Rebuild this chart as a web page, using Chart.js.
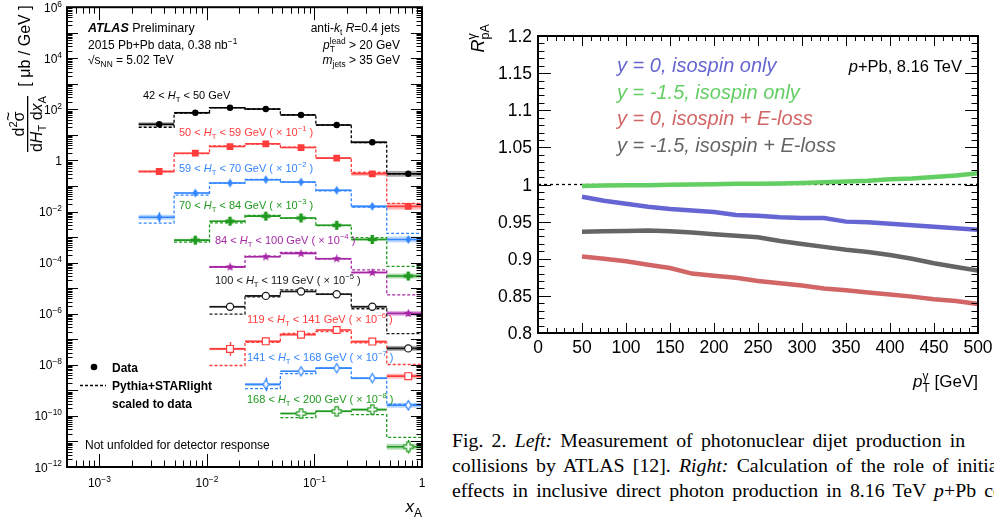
<!DOCTYPE html>
<html>
<head>
<meta charset="utf-8">
<script src="https://cdn.jsdelivr.net/npm/chart.js@4.4.1/dist/chart.umd.min.js"></script>
<style>
  html, body { margin: 0; padding: 0; background: #fff; }
  body { width: 994px; height: 522px; overflow: hidden; position: relative; }
  #left { position: absolute; left: 0; top: 0; }
  #right { position: absolute; left: 440px; top: 0; }
  #cap { position: absolute; left: 452px; top: 428px; font: 19.8px 'Liberation Serif', 'Times New Roman', serif;
         line-height: 25px; white-space: nowrap; color: #000; word-spacing: 3.3px; }
</style>
</head>
<body>
<canvas id="left" width="440" height="522"></canvas>
<canvas id="right" width="554" height="410"></canvas>
<div id="cap">Fig. 2. <i>Left:</i> Measurement of photonuclear dijet production in<br>collisions by ATLAS [12]. <i>Right:</i> Calculation of the role of initial<br>effects in inclusive direct photon production in 8.16 TeV <i>p</i>+Pb collisions</div>
<script>
// ---- Panel izquierdo: dijets fotonucleares (valores ya multiplicados por el factor de cada etiqueta) ----
const EDGES = [0.00232, 0.00495, 0.01057, 0.0226, 0.0482, 0.103, 0.22, 0.47, 1.0];
const XA_POINTS = [0.0036, 0.0078, 0.0164, 0.0353, 0.075, 0.161, 0.345, 0.745];

const HT_LABELS = [
  '42 < #i{H}_{T} < 50 GeV',
  '50 < #i{H}_{T} < 59 GeV ( × 10^{-1} )',
  '59 < #i{H}_{T} < 70 GeV ( × 10^{-2} )',
  '70 < #i{H}_{T} < 84 GeV ( × 10^{-3} )',
  '84 < #i{H}_{T} < 100 GeV ( × 10^{-4} )',
  '100 < #i{H}_{T} < 119 GeV ( × 10^{-5} )',
  '119 < #i{H}_{T} < 141 GeV ( × 10^{-6} )',
  '141 < #i{H}_{T} < 168 GeV ( × 10^{-7} )',
  '168 < #i{H}_{T} < 200 GeV ( × 10^{-8} )'
];
const HT_COLORS = ['#000000', '#ff3c3c', '#3386ff', '#1f9a1f', '#a626a6', '#1a1a1a', '#ff3c3c', '#3386ff', '#1f9a1f'];
const HT_BANDS = ['rgba(0,0,0,0.35)', 'rgba(255,60,60,0.35)', 'rgba(51,134,255,0.35)', 'rgba(31,154,31,0.35)', 'rgba(166,38,166,0.35)',
                  'rgba(0,0,0,0.35)', 'rgba(255,60,60,0.35)', 'rgba(51,134,255,0.35)', 'rgba(31,154,31,0.35)'];

// datos
const D1 = [26, 74, 116, 103, 60, 24.6, 5.2, 0.30];
const D2 = [0.37, 1.92, 3.5, 4.5, 3.2, 1.23, 0.30, 0.016];
const D3 = [0.0060, 0.053, 0.131, 0.177, 0.143, 0.068, 0.016, 0.00081];
const D4 = [null, 7.6e-4, 4.2e-3, 6.6e-3, 5.6e-3, 2.9e-3, 8.1e-4, 3.0e-5];
const D5 = [null, null, 6.8e-5, 1.71e-4, 2.3e-4, 1.43e-4, 4.1e-5, 1.03e-6];
const D6 = [null, null, 1.87e-6, 5.0e-6, 7.4e-6, 5.8e-6, 1.87e-6, 4.4e-8];
const D7 = [null, null, 4.2e-8, 8.3e-8, 1.52e-7, 2.3e-7, 8.1e-8, 3.6e-9];
const D8 = [null, null, null, 1.71e-9, 5.6e-9, 7.4e-9, 3.0e-9, 2.6e-10];
const D9 = [null, null, null, null, 1.24e-10, 1.52e-10, 1.77e-10, 6.2e-12];

// Pythia+STARlight
const M1 = [20, 72, 118, 101, 62, 24, 5.0, 0.30];
const M2 = [0.37, 1.85, 3.7, 4.4, 3.3, 1.2, 0.34, 0.021];
const M3 = [0.0035, 0.044, 0.13, 0.18, 0.14, 0.065, 0.015, 0.0014];
const M4 = [null, 6.4e-4, 3.6e-3, 7.0e-3, 5.4e-3, 2.8e-3, 9.6e-4, 7.1e-5];
const M5 = [null, null, 6.5e-5, 1.8e-4, 2.5e-4, 1.4e-4, 5.2e-5, 5.5e-6];
const M6 = [null, null, 9.7e-7, 4.6e-6, 8.6e-6, 5.8e-6, 1.57e-6, 1.66e-7];
const M7 = [null, null, 9.4e-9, 7.6e-8, 1.71e-7, 2.0e-7, 7.2e-8, 1.03e-8];
const M8 = [null, null, null, 1.16e-9, 4.5e-9, 7.4e-9, 3.0e-9, 2.85e-10];
const M9 = [null, null, null, null, 8.6e-11, 1.5e-10, 1.13e-10, 1.44e-11];

// errores estadísticos (factor: la barra va de v/f a v*f)
const E1 = [1.05, 1.05, 1.05, 1.05, 1.05, 1.05, 1.08, 1.1];
const E2 = [1.2, 1.08, 1.05, 1.05, 1.05, 1.08, 1.1, 1.15];
const E3 = [1.55, 1.15, 1.08, 1.08, 1.08, 1.1, 1.15, 1.2];
const E4 = [null, 1.3, 1.12, 1.1, 1.1, 1.12, 1.15, 1.25];
const E5 = [null, null, 1.25, 1.15, 1.12, 1.15, 1.2, 1.3];
const E6 = [null, null, 1.3, 1.15, 1.12, 1.15, 1.2, 1.3];
const E7 = [null, null, 1.85, 1.3, 1.2, 1.2, 1.25, 1.4];
const E8 = [null, null, null, 1.85, 1.3, 1.2, 1.25, 1.5];
const E9 = [null, null, null, null, 1.45, 1.3, 1.3, 1.85];

// sistemáticos (banda sombreada, mismo formato)
const S1 = [1.2, 1.08, 1.06, 1.06, 1.06, 1.08, 1.12, 1.3];
const S2 = [1.12, 1.08, 1.06, 1.06, 1.06, 1.08, 1.2, 1.35];
const S3 = [1.25, 1.1, 1.06, 1.06, 1.06, 1.08, 1.12, 1.3];
const S4 = [null, 1.12, 1.08, 1.06, 1.06, 1.08, 1.12, 1.25];
const S5 = [null, null, 1.1, 1.08, 1.08, 1.08, 1.12, 1.25];
const S6 = [null, null, 1.1, 1.08, 1.08, 1.08, 1.12, 1.25];
const S7 = [null, null, 1.12, 1.08, 1.08, 1.08, 1.12, 1.25];
const S8 = [null, null, null, 1.12, 1.08, 1.08, 1.1, 1.25];
const S9 = [null, null, null, null, 1.1, 1.1, 1.1, 1.3];

const DATA = [D1, D2, D3, D4, D5, D6, D7, D8, D9];
const PYTHIA = [M1, M2, M3, M4, M5, M6, M7, M8, M9];
const ERRS = [E1, E2, E3, E4, E5, E6, E7, E8, E9];
const SYST = [S1, S2, S3, S4, S5, S6, S7, S8, S9];

const Y_LABEL_EXP = [-12, -10, -8, -6, -4, -2, 0, 2, 4, 6];
const X_LABEL_EXP = [-3, -2, -1, 0];

// ---- Panel derecho: R_pA de fotones directos ----
const PT = [50, 75, 100, 125, 150, 175, 200, 225, 250, 275, 300, 325, 350, 375, 400, 425, 450, 475, 500];
const R_Y0_ISO    = [0.9835, 0.978, 0.974, 0.970, 0.967, 0.965, 0.963, 0.959, 0.958, 0.956, 0.955, 0.955, 0.950, 0.949, 0.947, 0.945, 0.943, 0.941, 0.939];
const R_YM15_ISO  = [0.998, 0.9985, 0.999, 0.999, 0.9995, 1.000, 1.0005, 1.001, 1.001, 1.0015, 1.002, 1.003, 1.004, 1.005, 1.007, 1.008, 1.010, 1.012, 1.015];
const R_Y0_ELOSS  = [0.903, 0.900, 0.8965, 0.892, 0.8875, 0.880, 0.877, 0.8745, 0.870, 0.867, 0.864, 0.860, 0.8575, 0.8545, 0.852, 0.849, 0.8455, 0.843, 0.839];
const R_YM15_ELOSS = [0.9365, 0.937, 0.9375, 0.938, 0.937, 0.9355, 0.933, 0.931, 0.929, 0.924, 0.920, 0.916, 0.912, 0.909, 0.905, 0.900, 0.894, 0.889, 0.884];
const R_LABELS = ['y = 0, isospin only', 'y = -1.5, isospin only', 'y = 0, isospin + E-loss', 'y = -1.5, isospin + E-loss'];
const R_COLORS = ['#6565d3', '#63cf63', '#d26565', '#656565'];
const R_Y_TICKS = ['0.8', '0.85', '0.9', '0.95', '1', '1.05', '1.1', '1.15', '1.2'];
const R_X_TICKS = [0, 50, 100, 150, 200, 250, 300, 350, 400, 450, 500];

const FAM = "'Liberation Sans', Arial, Helvetica, sans-serif";

// texto con sub/superíndices: _{..} ^{..} #i{..} #b{..} #B{..}
function parseRich(s) {
  const out = []; let buf = '', i = 0;
  const flush = () => { if (buf) out.push({ t: buf, m: '' }); buf = ''; };
  while (i < s.length) {
    const two = s.slice(i, i + 2), three = s.slice(i, i + 3);
    if (two === '_{' || two === '^{') {
      flush(); const j = s.indexOf('}', i); out.push({ t: s.slice(i + 2, j), m: two[0] }); i = j + 1;
    } else if (three === '#i{' || three === '#b{' || three === '#B{') {
      flush(); const j = s.indexOf('}', i); out.push({ t: s.slice(i + 3, j), m: three[1] }); i = j + 1;
    } else { buf += s[i]; i++; }
  }
  flush();
  return out;
}

// devuelve el ancho total dibujado
function drawRich(ctx, s, x, y, size, opt = {}) {
  const parts = parseRich(s.replace(/\^\{-/g, '^{\u2212'));
  const fontOf = p => {
    const small = p.m === '_' || p.m === '^';
    const it = opt.italic || p.m === 'i' || p.m === 'B';
    const bd = opt.bold || p.m === 'b' || p.m === 'B';
    return (it ? 'italic ' : '') + (bd ? 'bold ' : '') + (small ? size * 0.7 : size) + 'px ' + FAM;
  };
  parts.forEach(p => { ctx.font = fontOf(p); p.w = ctx.measureText(p.t).width; });
  const groups = [];
  for (let k = 0; k < parts.length; k++) {
    const p = parts[k], q = parts[k + 1];
    if (q && ((p.m === '_' && q.m === '^') || (p.m === '^' && q.m === '_'))) {
      groups.push({ parts: [p, q], w: Math.max(p.w, q.w) }); k++;
    } else groups.push({ parts: [p], w: p.w });
  }
  const total = groups.reduce((s2, g) => s2 + g.w, 0);
  let cx = opt.align === 'right' ? x - total : opt.align === 'center' ? x - total / 2 : x;
  ctx.textAlign = 'left';
  ctx.textBaseline = 'alphabetic';
  groups.forEach(g => {
    g.parts.forEach(p => {
      ctx.font = fontOf(p);
      const dy = p.m === '_' ? size * 0.28 : p.m === '^' ? -size * 0.42 : 0;
      ctx.fillText(p.t, cx, y + dy);
    });
    cx += g.w;
  });
  return total;
}

// marcadores tipo ROOT que Chart.js no trae
function marker(kind, color, open) {
  const s = 13, c = document.createElement('canvas');
  c.width = c.height = s;
  const g = c.getContext('2d');
  g.translate(s / 2, s / 2);
  let pts = [];
  if (kind === 'cross') {
    const a = 1.7, b = 4.6;
    pts = [[-a, -b], [a, -b], [a, -a], [b, -a], [b, a], [a, a], [a, b], [-a, b], [-a, a], [-b, a], [-b, -a], [-a, -a]];
  } else if (kind === 'star') {
    for (let i = 0; i < 10; i++) {
      const r = i % 2 ? 1.9 : 4.8, t = -Math.PI / 2 + i * Math.PI / 5;
      pts.push([r * Math.cos(t), r * Math.sin(t)]);
    }
  } else if (kind === 'diamond') {
    pts = [[0, -4.6], [2.8, 0], [0, 4.6], [-2.8, 0]];
  }
  g.beginPath();
  pts.forEach(([px, py], i) => i ? g.lineTo(px, py) : g.moveTo(px, py));
  g.closePath();
  if (open) {
    g.fillStyle = '#fff'; g.fill();
    g.strokeStyle = color; g.lineWidth = 1.2; g.stroke();
  } else {
    g.fillStyle = color; g.fill();
  }
  return c;
}

const MARKERS = [
  { style: 'circle', r: 3.2 },
  { style: 'rect', r: 4.8 },
  { style: 'diamond' },
  { style: 'cross' },
  { style: 'star' },
  { style: 'circle', r: 3.6, open: true },
  { style: 'rect', r: 4.8, open: true },
  { style: 'diamond', open: true },
  { style: 'cross', open: true }
];

const leftSets = [];
DATA.forEach((vals, i) => {
  const col = HT_COLORS[i];
  const mk = MARKERS[i];

  // histograma Pythia a trazos
  const mc = PYTHIA[i];
  const steps = [];
  let last = 0;
  mc.forEach((v, k) => { if (v != null) { steps.push({ x: EDGES[k], y: v }); last = k; } });
  steps.push({ x: EDGES[last + 1], y: mc[last] });
  leftSets.push({ data: steps, borderColor: col, borderWidth: 1.3, borderDash: [3, 2], stepped: true, pointRadius: 0, order: 3 });

  // barras horizontales de los datos
  const bars = [];
  vals.forEach((v, k) => {
    if (v != null) bars.push({ x: EDGES[k], y: v }, { x: EDGES[k + 1], y: v }, { x: EDGES[k + 1], y: null });
  });
  leftSets.push({ data: bars, borderColor: col, borderWidth: 1.6, pointRadius: 0, spanGaps: false, order: 2,
                  bins: vals.map((v, k) => v == null ? null : { lo: EDGES[k], hi: EDGES[k + 1], v, s: SYST[i][k] }).filter(Boolean),
                  band: HT_BANDS[i] });

  // marcadores
  const pts = [], errs = [];
  vals.forEach((v, k) => { if (v != null) { pts.push({ x: XA_POINTS[k], y: v }); errs.push(ERRS[i][k]); } });
  const custom = mk.style === 'cross' || mk.style === 'star' || mk.style === 'diamond';
  leftSets.push({
    data: pts, errs, showLine: false, order: 1,
    pointStyle: custom ? marker(mk.style, col, mk.open) : mk.style,
    pointRadius: custom ? 6 : mk.r,
    pointBackgroundColor: mk.open ? '#ffffff' : col,
    pointBorderColor: col,
    pointBorderWidth: mk.open ? 1.2 : 0
  });
});

function drawFrame(chart, xTicks, yTicks) {
  const { ctx, chartArea: a, scales: { x, y } } = chart;
  ctx.save();
  ctx.strokeStyle = '#000';
  ctx.lineWidth = 1;
  ctx.beginPath();
  xTicks.forEach(([v, len]) => {
    const px = Math.round(x.getPixelForValue(v)) + 0.5;
    ctx.moveTo(px, a.bottom); ctx.lineTo(px, a.bottom - len);
    ctx.moveTo(px, a.top); ctx.lineTo(px, a.top + len);
  });
  yTicks.forEach(([v, len]) => {
    const py = Math.round(y.getPixelForValue(v)) + 0.5;
    ctx.moveTo(a.left, py); ctx.lineTo(a.left + len, py);
    ctx.moveTo(a.right, py); ctx.lineTo(a.right - len, py);
  });
  ctx.stroke();
  ctx.lineWidth = 2;
  ctx.strokeRect(a.left, a.top, a.right - a.left, a.bottom - a.top);
  ctx.restore();
}

function logTicks(lo, hi, majorLen) {
  const out = [];
  for (let e = Math.floor(Math.log10(lo)); e <= Math.ceil(Math.log10(hi)); e++) {
    for (let m = 1; m <= 9; m++) {
      const v = m * Math.pow(10, e);
      if (v >= lo * 0.999 && v <= hi * 1.001) out.push([v, m === 1 ? majorLen : majorLen / 2]);
    }
  }
  return out;
}

const expText = e => e === 0 ? '1' : '10^{' + e + '}';

const leftDecor = {
  id: 'leftDecor',
  beforeDatasetsDraw(chart) {
    const { ctx, chartArea: a, scales: { x, y } } = chart;
    ctx.save();
    ctx.beginPath();
    ctx.rect(a.left, a.top, a.right - a.left, a.bottom - a.top);
    ctx.clip();
    chart.data.datasets.forEach((ds, i) => {
      // bandas sistemáticas
      if (ds.bins) {
        ctx.fillStyle = ds.band;
        ds.bins.forEach(b => {
          if (!b.s) return;
          const x0 = x.getPixelForValue(b.lo), x1 = x.getPixelForValue(b.hi);
          const y0 = y.getPixelForValue(b.v * b.s), y1 = y.getPixelForValue(b.v / b.s);
          ctx.fillRect(x0, y0, x1 - x0, y1 - y0);
        });
      }
      if (!ds.errs) return;
      const meta = chart.getDatasetMeta(i);
      ctx.strokeStyle = ds.pointBorderColor;
      ctx.lineWidth = 1.4;
      ds.data.forEach((pt, j) => {
        const f = ds.errs[j];
        if (!f || f <= 1) return;
        const px = Math.round(meta.data[j].x) + 0.5;
        ctx.beginPath();
        ctx.moveTo(px, y.getPixelForValue(pt.y * f));
        ctx.lineTo(px, y.getPixelForValue(pt.y / f));
        ctx.stroke();
      });
    });
    ctx.restore();
  },
  afterDraw(chart) {
    const { ctx, chartArea: a, scales: { x, y } } = chart;
    drawFrame(chart, logTicks(x.min, x.max, 13), logTicks(y.min, y.max, 11));
    ctx.save();
    ctx.fillStyle = '#000';
    Y_LABEL_EXP.forEach(e => drawRich(ctx, expText(e), a.left - 5, y.getPixelForValue(Math.pow(10, e)) + 4.5, 12, { align: 'right' }));
    X_LABEL_EXP.forEach(e => drawRich(ctx, expText(e), x.getPixelForValue(Math.pow(10, e)), a.bottom + 20, 12, { align: 'center' }));

    // títulos de ejes
    drawRich(ctx, '#i{x}_{A}', a.right, 512, 17, { align: 'right' });
    ctx.save();
    ctx.rotate(-Math.PI / 2);
    const wNum = drawRich(ctx, 'd^{2}σ', -124, 24, 16, { align: 'center' });
    ctx.font = '16px ' + FAM;
    const wSig = ctx.measureText('σ').width;
    ctx.textAlign = 'center';
    ctx.fillText('~', -124 + wNum / 2 - wSig / 2, 14);
    ctx.fillRect(-152, 27, 56, 1.3);
    drawRich(ctx, 'd#i{H}_{T} d#i{x}_{A}', -124, 42, 16, { align: 'center' });
    drawRich(ctx, '[ μb / GeV ]', -46, 30, 16, { align: 'center' });
    ctx.restore();

    // textos ATLAS
    drawRich(ctx, '#B{ATLAS} Preliminary', 88, 32, 12.5);
    drawRich(ctx, '2015 Pb+Pb data, 0.38 nb^{-1}', 88, 49, 12);
    drawRich(ctx, '√s_{NN} = 5.02 TeV', 88, 64, 12);
    drawRich(ctx, 'anti-#i{k}_{t} #i{R}=0.4 jets', 400, 32, 12, { align: 'right' });
    drawRich(ctx, '#i{p}_{T}^{lead} > 20 GeV', 400, 49, 12, { align: 'right' });
    drawRich(ctx, '#i{m}_{jets} > 35 GeV', 400, 64, 12, { align: 'right' });

    // etiquetas de cada intervalo de H_T
    const LABEL_XY = [[143, 99], [179, 135.5], [179, 171.5], [179, 208.5], [215, 244], [215, 284], [247, 322.5], [247, 361], [247, 402.5]];
    HT_LABELS.forEach((t, i) => {
      ctx.fillStyle = HT_COLORS[i];
      drawRich(ctx, t, LABEL_XY[i][0], LABEL_XY[i][1], 11);
    });

    // leyenda
    ctx.fillStyle = '#000';
    ctx.beginPath(); ctx.arc(94, 367, 3.3, 0, Math.PI * 2); ctx.fill();
    drawRich(ctx, '#b{Data}', 112, 371.5, 12);
    ctx.strokeStyle = '#000'; ctx.lineWidth = 1.3; ctx.setLineDash([3, 2]);
    ctx.beginPath(); ctx.moveTo(80, 385.5); ctx.lineTo(106, 385.5); ctx.stroke();
    ctx.setLineDash([]);
    drawRich(ctx, '#b{Pythia+STARlight}', 112, 389.5, 12);
    drawRich(ctx, '#b{scaled to data}', 112, 407.5, 12);
    drawRich(ctx, 'Not unfolded for detector response', 85, 449, 12);
    ctx.restore();
  }
};

new Chart(document.getElementById('left'), {
  type: 'line',
  data: { datasets: leftSets },
  options: {
    responsive: false,
    animation: false,
    events: [],
    layout: { padding: { left: 67, right: 18, top: 5, bottom: 55 } },
    scales: {
      x: { type: 'logarithmic', min: 5e-4, max: 1, display: false },
      y: { type: 'logarithmic', min: 1e-12, max: 1e6, display: false }
    },
    plugins: { legend: { display: false }, tooltip: { enabled: false } }
  },
  plugins: [leftDecor]
});

// ---- derecha ----
const rightDecor = {
  id: 'rightDecor',
  afterDraw(chart) {
    const { ctx, chartArea: a, scales: { x, y } } = chart;
    const xt = [], yt = [];
    for (let v = 0; v <= 500; v += 10) xt.push([v, v % 50 === 0 ? 10 : 5]);
    for (let k = 0; k <= 40; k++) yt.push([0.8 + k * 0.01, k % 5 === 0 ? 13 : 6.5]);
    drawFrame(chart, xt, yt);
    ctx.save();
    ctx.fillStyle = '#000';
    R_Y_TICKS.forEach(t => drawRich(ctx, t, a.left - 6, y.getPixelForValue(Number(t)) + 6, 17.5, { align: 'right' }));
    R_X_TICKS.forEach(v => drawRich(ctx, String(v), x.getPixelForValue(v), a.bottom + 20, 17.5, { align: 'center' }));
    drawRich(ctx, '#i{p}^{γ}_{T} [GeV]', a.right, 387, 17, { align: 'right' });
    ctx.save();
    ctx.translate(44, 24);
    ctx.rotate(-Math.PI / 2);
    drawRich(ctx, '#i{R}^{γ}_{pA}', 0, 0, 18, { align: 'right' });
    ctx.restore();
    R_LABELS.forEach((t, i) => {
      ctx.fillStyle = R_COLORS[i];
      drawRich(ctx, t, 177, 72 + i * 26.5, 20, { italic: true });
    });
    ctx.fillStyle = '#000';
    drawRich(ctx, '#i{p}+Pb, 8.16 TeV', 522, 72, 16.5, { align: 'right' });
    ctx.restore();
  }
};

const R_SERIES = [R_Y0_ISO, R_YM15_ISO, R_Y0_ELOSS, R_YM15_ELOSS];
const rightSets = R_SERIES.map((vals, i) => ({
  data: PT.map((p, k) => ({ x: p, y: vals[k] })),
  borderColor: R_COLORS[i], borderWidth: 4.5, pointRadius: 0, order: 1
}));
rightSets.push({ data: [{ x: 0, y: 1 }, { x: 500, y: 1 }], borderColor: '#000', borderWidth: 1.3, borderDash: [3, 3], pointRadius: 0, order: 5 });

new Chart(document.getElementById('right'), {
  type: 'line',
  data: { datasets: rightSets },
  options: {
    responsive: false,
    animation: false,
    events: [],
    layout: { padding: { left: 98, right: 16, top: 36, bottom: 77 } },
    scales: {
      x: { type: 'linear', min: 0, max: 500, display: false },
      y: { type: 'linear', min: 0.8, max: 1.2, display: false }
    },
    plugins: { legend: { display: false }, tooltip: { enabled: false } }
  },
  plugins: [rightDecor]
});
</script>
</body>
</html>
